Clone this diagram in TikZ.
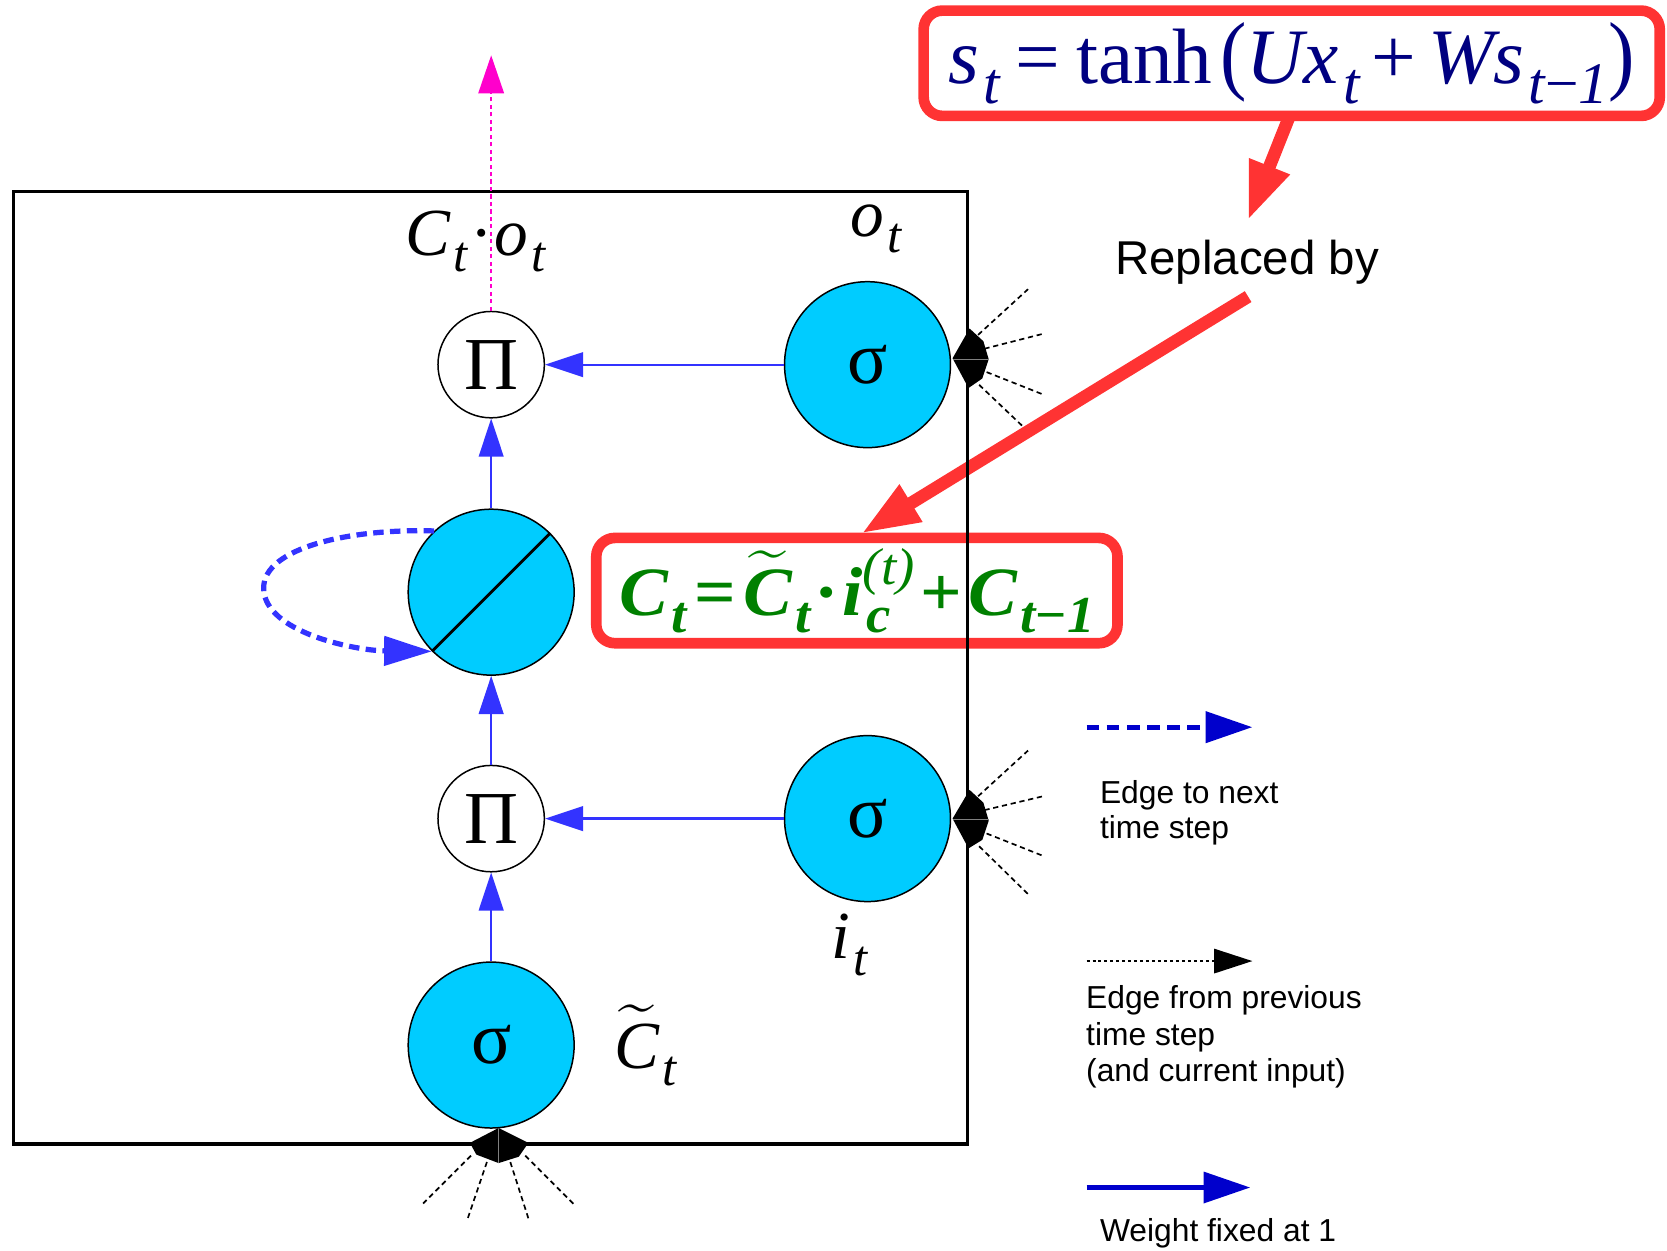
\RequirePackage{fix-cm}
\documentclass[tikz,border=0pt]{standalone}
\usepackage{fontspec}
\usepackage{amsmath}
\usepackage{graphicx}
\usetikzlibrary{arrows.meta}
\newfontfamily\arialf{Liberation Sans}
\newfontfamily\timesf{Liberation Serif}
\newcommand\lsub[1]{\hspace{0.05em}\raisebox{-0.25em}{\scalebox{0.75}{#1}}}
\newcommand\lsup[1]{\raisebox{0.45em}{\scalebox{0.75}{#1}}}
\definecolor{cellcyan}{RGB}{0,204,255}
\definecolor{arrblue}{RGB}{51,51,255}
\definecolor{legblue}{RGB}{0,0,204}
\definecolor{boxred}{RGB}{255,51,51}
\definecolor{magent}{RGB}{255,0,204}
\definecolor{navyc}{RGB}{0,0,128}
\definecolor{eqgreen}{RGB}{0,128,0}
\begin{document}
\begin{tikzpicture}[x=0.01cm,y=-0.01cm,
  cellnode/.style={circle,draw=black,line width=0.4pt,fill=cellcyan,minimum size=1.56cm,inner sep=0pt,font=\timesf\fontsize{20}{24}\selectfont},
  prodnode/.style={circle,draw=black,line width=0.4pt,fill=white,minimum size=1cm,inner sep=0pt,font=\timesf\fontsize{20}{24}\selectfont},
  flow/.style={draw=arrblue,color=arrblue,line width=0.6pt,-{Triangle[length=10.2pt,width=6.6pt]}},
  loopedge/.style={draw=arrblue,color=arrblue,line width=1.4pt,dash pattern=on 2.8pt off 1.7pt,-{Triangle[length=12.8pt,width=7.7pt]}},
  outedge/.style={draw=magent,color=magent,line width=0.6pt,dash pattern=on 1.1pt off 0.9pt,-{Triangle[length=10.2pt,width=6.8pt]}},
  redbox/.style={draw=boxred,line width=2.85pt,rounded corners=5pt,inner sep=0pt},
  redarrow/.style={draw=boxred,color=boxred,line width=3.4pt,-{Triangle[length=15.5pt,width=10.8pt]}},
  mathlbl/.style={anchor=base,inner sep=0pt,font=\timesf\itshape\fontsize{18}{21}\selectfont},
  legtext/.style={anchor=base west,inner sep=0pt,font=\arialf\fontsize{8.5}{10}\selectfont},
  legdash/.style={draw=legblue,color=legblue,line width=1.4pt,dash pattern=on 3.4pt off 2pt,-{Triangle[length=12.5pt,width=8.2pt]}},
  legdot/.style={draw=black,line width=0.5pt,dash pattern=on 0.8pt off 0.8pt,-{Triangle[length=10.2pt,width=6.5pt]}},
  legsolid/.style={draw=legblue,color=legblue,line width=1.25pt,-{Triangle[length=12.5pt,width=8.2pt]}},
  ray/.style={draw=black,line width=0.45pt,dash pattern=on 1.4pt off 1pt},
  seam/.style={draw=gray,line width=0.3pt}
]
\useasboundingbox (0,0) rectangle (1568,1176);

% red boxes and arrows
\node[redbox,minimum width=6.92cm,minimum height=0.99cm,font=\timesf\fontsize{21}{25}\selectfont] (eqS) at (1215,59.5)
  {\resizebox{6.45cm}{\height}{\color{navyc}{\itshape s\lsub{t}}\hspace{0.2em}=\hspace{0.2em}tanh\hspace{0.1em}\scalebox{1}[1.12]{(}{\itshape Ux\lsub{t}}\hspace{0.15em}+\hspace{0.15em}{\itshape Ws\lsub{t{\upshape−}1}}\scalebox{1}[1.12]{)}}};
\node[redbox,minimum width=4.9cm,minimum height=0.99cm,font=\timesf\bfseries\itshape\fontsize{18.5}{22}\selectfont] (eqC) at (806,555.5)
  {\resizebox{4.47cm}{\height}{\color{eqgreen}\boldmath C\lsub{t}\hspace{0.1em}{\upshape =}\hspace{0.1em}$\widetilde{\mbox{C}}$\lsub{t}\hspace{0.05em}{\upshape ·}\hspace{0.05em}i\rlap{\lsub{c}}\lsup{\mdseries(t)}\hspace{0.08em}{\upshape +}\hspace{0.08em}C\lsub{t{\upshape −}1}}};
\node[anchor=base,inner sep=1pt,font=\arialf\fontsize{12.7}{15}\selectfont] (repl) at (1173,258) {Replaced by};
\coordinate (r1a) at (1213,109);
\coordinate (r1b) at (1174,207);
\coordinate (r2a) at (1174,279);
\coordinate (r2b) at (810.5,501.7);
\draw[redarrow] (r1a) -- (r1b);
\draw[redarrow] (r2a) -- (r2b);

% main frame
\draw[line width=0.85pt] (13,180) rectangle (910,1076);

% diamonds and rays
\fill[black] (912,309) -- (925,321) -- (930,338) -- (924,356) -- (911,365) -- (896,337) -- cycle;
\draw[seam] (896,338) -- (930,338);
\draw[ray] (920,315) -- (967,272);
\draw[ray] (926,328) -- (981,314);
\draw[ray] (928,350) -- (981,371);
\draw[ray] (921,362) -- (962,401);

\fill[black] (912,743) -- (925,755) -- (930,772) -- (924,790) -- (911,798) -- (896,770) -- cycle;
\draw[seam] (896,771) -- (930,771);
\draw[ray] (920,749) -- (967,706);
\draw[ray] (926,762) -- (981,749);
\draw[ray] (928,784) -- (981,805);
\draw[ray] (921,796) -- (967,841);

\fill[black] (469,1061) -- (497,1075) -- (488,1088) -- (469,1094) -- (448,1086) -- (442,1075) -- cycle;
\draw[seam] (469,1061) -- (469,1094);
\draw[ray] (443,1087) -- (398,1132);
\draw[ray] (458,1093) -- (440,1146);
\draw[ray] (480,1093) -- (497,1146);
\draw[ray] (494,1087) -- (540,1133);

% cells
\node[prodnode] (pitop) at (462,343) {Π};
\node[cellnode] (sigo) at (816,343) {σ};
\node[cellnode] (cell) at (462,557) {};
\node[prodnode] (pibot) at (462,770) {Π};
\node[cellnode] (sigi) at (816,770) {σ};
\node[cellnode] (sigc) at (462,983) {σ};
\draw[line width=0.75pt] (cell.225) -- (cell.45);

% connectors
\draw[flow] (sigo) -- (pitop);
\draw[flow] (cell) -- (pitop);
\draw[flow] (pibot) -- (cell);
\draw[flow] (sigi) -- (pibot);
\draw[flow] (sigc) -- (pibot);
\draw[loopedge] (cell.133) .. controls (330,497) and (248,515) .. (248,553) .. controls (248,595) and (335,612) .. (cell.225);
\coordinate (outtop) at (462,52);
\draw[outedge] (pitop) -- (outtop);

% labels
\node[mathlbl] (lblco) at (447,240) {C\lsub{t}\hspace{0.04em}{\upshape·}\hspace{0.02em}o\lsub{t}};
\node[mathlbl] (lblo) at (824,222) {o\lsub{t}};
\node[mathlbl] (lbli) at (799,902) {i\lsub{t}};
\node[mathlbl] (lblc) at (607,1005) {$\widetilde{\mbox{C}}$\lsub{t}};

% legend
\coordinate (la1) at (1022,684);
\coordinate (lb1) at (1178,684);
\draw[legdash] (la1) -- (lb1);
\node[legtext] (l1a) at (1034,756) {Edge to next};
\node[legtext] (l1b) at (1034,789) {time step};
\coordinate (la2) at (1022,904);
\coordinate (lb2) at (1178,904);
\draw[legdot] (la2) -- (lb2);
\node[legtext] (l2a) at (1021,949) {Edge from previous};
\node[legtext] (l2b) at (1021,983) {time step};
\node[legtext] (l2c) at (1021,1017) {(and current input)};
\coordinate (la3) at (1022,1117);
\coordinate (lb3) at (1176,1117);
\draw[legsolid] (la3) -- (lb3);
\node[legtext] (l3a) at (1034,1168) {Weight fixed at 1};
\end{tikzpicture}
\end{document}
